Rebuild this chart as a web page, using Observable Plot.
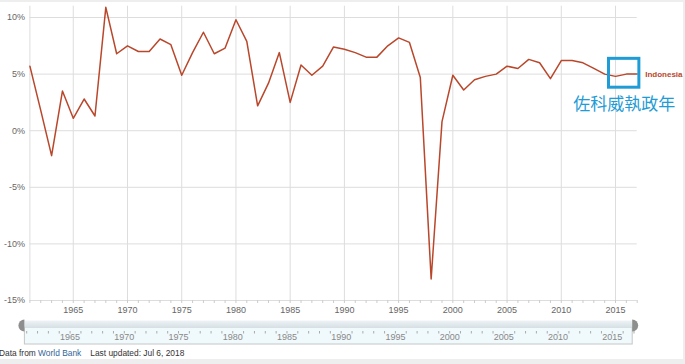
<!DOCTYPE html>
<html>
<head>
<meta charset="utf-8">
<script src="https://cdn.jsdelivr.net/npm/d3@7"></script>
<script src="https://cdn.jsdelivr.net/npm/@observablehq/plot@0.6"></script>
<style>
  html, body { margin: 0; padding: 0; background: #eeeeee; }
  #wrap { position: relative; width: 685px; height: 364px; overflow: hidden; }
  #panel { position: absolute; left: 0; top: 2px; width: 683px; height: 357px; background: #ffffff; }
  #chart { position: absolute; left: 0; top: 0; }
</style>
</head>
<body>
<div id="wrap"><div id="panel"></div><div id="chart"></div></div>
<script>
// ---- data ----
const years = [1961,1962,1963,1964,1965,1966,1967,1968,1969,1970,
  1971,1972,1973,1974,1975,1976,1977,1978,1979,1980,
  1981,1982,1983,1984,1985,1986,1987,1988,1989,1990,
  1991,1992,1993,1994,1995,1996,1997,1998,1999,2000,
  2001,2002,2003,2004,2005,2006,2007,2008,2009,2010,
  2011,2012,2013,2014,2015,2016,2017];
const growth = [5.7,1.8,-2.2,3.5,1.1,2.8,1.3,10.9,6.8,7.5,
  7.0,7.0,8.1,7.6,4.9,6.9,8.7,6.8,7.3,9.8,
  7.9,2.2,4.2,6.9,2.5,5.8,4.9,5.7,7.4,7.2,
  6.9,6.5,6.5,7.5,8.2,7.8,4.7,-13.1,0.8,4.9,
  3.6,4.5,4.8,5.0,5.7,5.5,6.3,6.0,4.6,6.2,
  6.2,6.0,5.5,5.0,4.8,5.0,5.0];
const seriesName = "Indonesia";
const xTicks = [1965,1970,1975,1980,1985,1990,1995,2000,2005,2010,2015];
const yTicks = [-15,-10,-5,0,5,10];
const highlightBox = [{x1: 2014.4, x2: 2017.2, y1: 3.8, y2: 6.35}];
const annotation = [{x: 2015.8, y: 2.35, text: "佐科威執政年"}];
const footerSource = "World Bank";
const footerUpdated = "Last updated: Jul 6, 2018";

const data = years.map((y, i) => ({year: y, value: growth[i]}));
const lineColor = "#b9472b";
const boxColor = "#1f9bd6";

const plot = Plot.plot({
  width: 685,
  height: 364,
  marginLeft: 29.4,
  marginRight: 48.3,
  marginTop: 5.7,
  marginBottom: 64,
  style: {background: "transparent", fontFamily: "'Liberation Sans', Arial, sans-serif"},
  x: {domain: [1961, 2017], label: null},
  y: {domain: [-15, 11], label: null},
  marks: [
    Plot.gridY(yTicks, {stroke: "#dddddd", strokeOpacity: 1}),
    Plot.gridX(xTicks, {stroke: "#dddddd", strokeOpacity: 1}),
    Plot.ruleX([1961], {y1: -15, y2: 11, stroke: "#dddddd"}),
    Plot.axisX(years, {tickSize: 3, tickFormat: () => "", stroke: "#cccccc", label: null}),
    Plot.axisX(xTicks, {tickSize: 0, tickPadding: 6, tickFormat: d => String(d), fontSize: 9, color: "#666666", label: null}),
    Plot.axisY(yTicks, {tickSize: 0, tickPadding: 5, tickFormat: d => d + "%", fontSize: 9, color: "#666666", label: null}),
    Plot.line(data, {x: "year", y: "value", stroke: lineColor, strokeWidth: 1.5}),
    Plot.text(data.slice(-1), {x: "year", y: "value", text: () => seriesName, dx: 8, textAnchor: "start", fontSize: 8, fontWeight: "bold", fill: lineColor}),
    Plot.rect(highlightBox, {x1: "x1", x2: "x2", y1: "y1", y2: "y2", fill: "none", stroke: boxColor, strokeWidth: 3}),
    Plot.text(annotation, {x: "x", y: "y", text: "text", fontSize: 17, fill: boxColor, fontFamily: "'Noto Sans CJK TC', sans-serif"})
  ]
});
document.getElementById("chart").appendChild(plot);

// ---- navigator + footer drawn on the plot's own x scale ----
const xs = plot.scale("x");
const X = v => xs.apply(v);
const svg = d3.select(plot);
const nav = svg.append("g");
const nL = X(1961) - 5, nR = X(2017) - 4.5;
const defs = svg.append("defs");
const grad = defs.append("linearGradient").attr("id", "navbar").attr("x1", 0).attr("x2", 0).attr("y1", 0).attr("y2", 1);
grad.append("stop").attr("offset", "0%").attr("stop-color", "#eef3f5");
grad.append("stop").attr("offset", "100%").attr("stop-color", "#d6e1e6");
nav.append("rect").attr("x", nL).attr("y", 327).attr("width", nR - nL).attr("height", 17)
  .attr("fill", "#f0f9fc").attr("stroke", "#c6c6c6").attr("stroke-width", 1);
nav.append("rect").attr("x", nL).attr("y", 320.5).attr("width", nR - nL).attr("height", 7)
  .attr("fill", "url(#navbar)");
// year ticks in navigator
nav.selectAll("line.yt").data(years).join("line")
  .attr("x1", d => X(d) - 2.7).attr("x2", d => X(d) - 2.7)
  .attr("y1", 331).attr("y2", 333.5).attr("stroke", "#aaaaaa").attr("stroke-width", 1);
nav.selectAll("text.nl").data(xTicks).join("text")
  .attr("x", d => X(d) - 2.7).attr("y", 337).attr("dy", "0.35em")
  .attr("text-anchor", "middle").attr("font-size", 9).attr("fill", "#888888")
  .text(d => String(d));
// handles
nav.append("path").attr("d", `M${nL},319.5 A6,6 0 0,0 ${nL},331.5 Z`).attr("fill", "#8e8e8e");
nav.append("path").attr("d", `M${nR},319.5 A6,6 0 0,1 ${nR},331.5 Z`).attr("fill", "#8e8e8e");
// footer
const ft = svg.append("text").attr("x", -1).attr("y", 353).attr("dy", "0.35em")
  .attr("text-anchor", "start").attr("font-size", 8.4).attr("fill", "#333333");
ft.append("tspan").text("Data from ");
ft.append("tspan").attr("fill", "#336699").text(footerSource);
ft.append("tspan").attr("dx", 9).text(footerUpdated);
</script>
</body>
</html>
